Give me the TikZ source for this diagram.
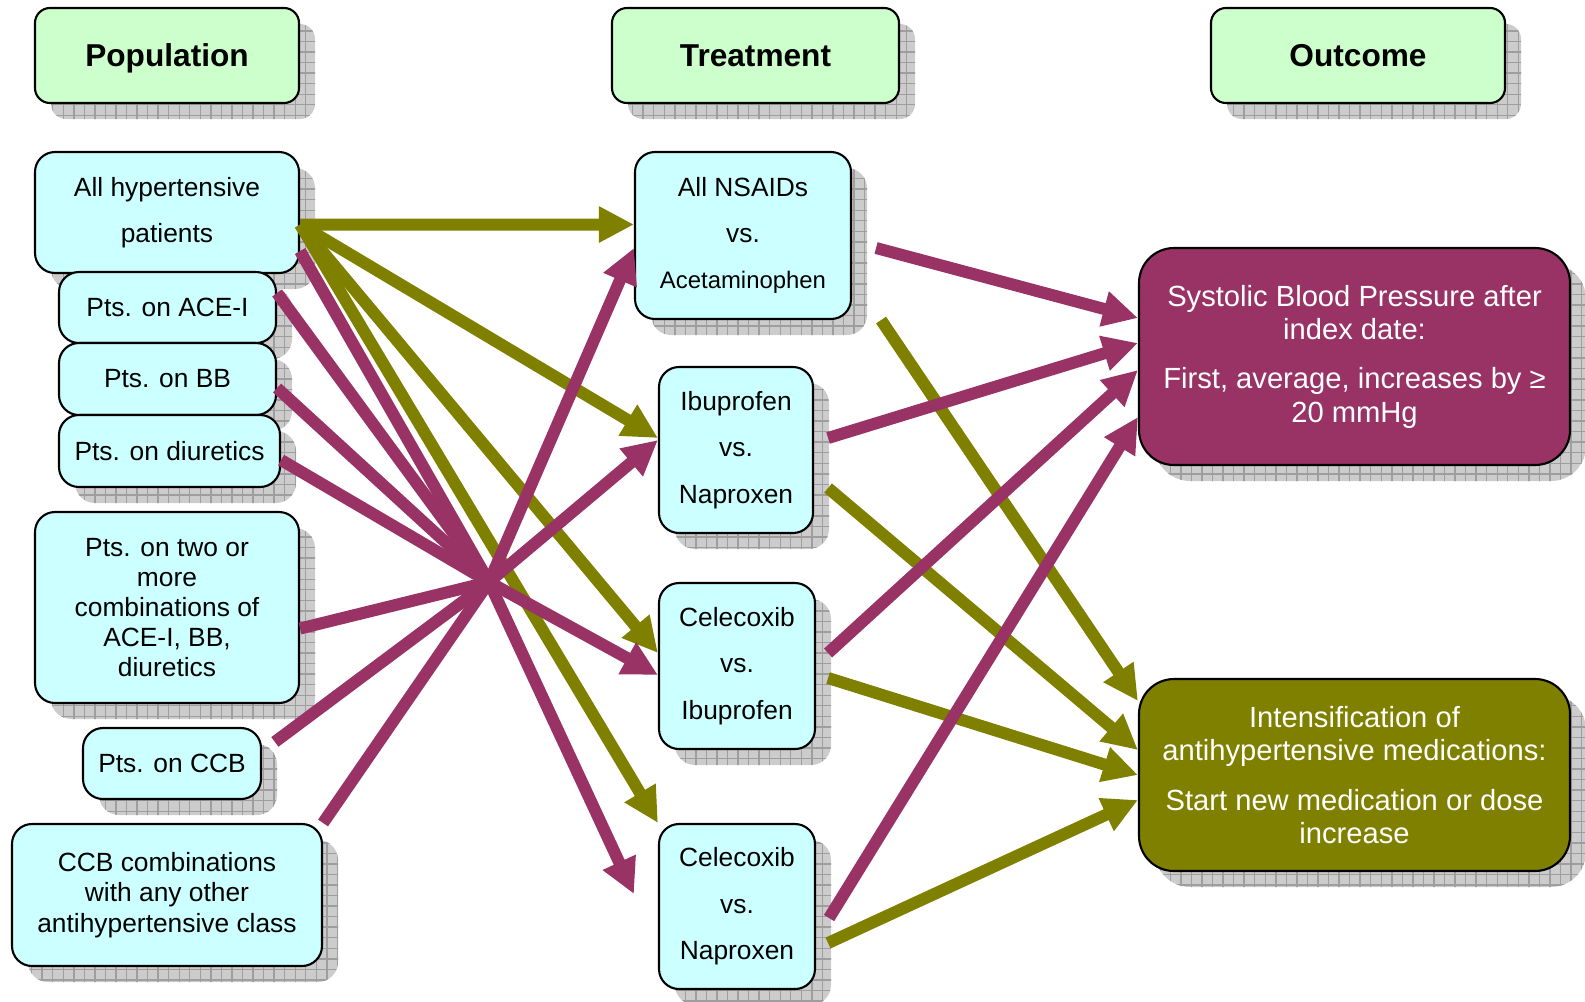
\documentclass[tikz,border=0pt]{standalone}
\usepackage{fontspec}
\setmainfont{Liberation Sans}
\usetikzlibrary{arrows.meta,shadows,patterns}
\definecolor{hdrgreen}{HTML}{CCFFCC}
\definecolor{popcyan}{HTML}{CCFFFF}
\definecolor{plum}{HTML}{993366}
\definecolor{olivegr}{HTML}{808000}

\begin{document}
\begin{tikzpicture}[
  box/.style={draw=black, line width=0.6pt, rounded corners=2mm, align=center, inner sep=0pt, fill=popcyan, font=\fontsize{7.5}{8.6}\selectfont,
    drop shadow={shadow xshift=1.6mm, shadow yshift=-1.6mm, fill=black!20, opacity=1, postaction={pattern=grid, pattern color=black!38}}},
  hdr/.style={box, fill=hdrgreen, rounded corners=1.5mm, font=\fontsize{9}{11}\selectfont\bfseries, text height=7pt, text depth=1pt},
  wide/.style={box, font=\fontsize{7.5}{13.2}\selectfont},
  res/.style={box, rounded corners=3.5mm, text=white, font=\fontsize{8.3}{9.5}\selectfont},
  mline/.style={line width=1.2mm, draw=plum},
  oline/.style={line width=1.2mm, draw=olivegr},
  marr/.style={mline, -{Triangle[length=3.5mm,width=3.4mm]}},
  oarr/.style={oline, -{Triangle[length=3.5mm,width=3.4mm]}}]
\useasboundingbox (0,0) rectangle (15.85,-10.01);
% headers
\node[hdr, minimum width=26.4mm, minimum height=9.5mm] (hpop) at (1.67,-0.555)  {Population};
\node[hdr, minimum width=28.7mm, minimum height=9.5mm] (htrt) at (7.555,-0.555) {Treatment};
\node[hdr, minimum width=29.4mm, minimum height=9.5mm] (hout) at (13.58,-0.555) {Outcome};
% population
\node[wide, minimum width=26.4mm, minimum height=12.1mm] (allhyp) at (1.67,-2.125) {All hypertensive\\patients};
\node[box, minimum width=21.7mm, minimum height=7.1mm] (acei)   at (1.675,-3.075) {Pts. on ACE-I};
\node[box, minimum width=21.7mm, minimum height=7.2mm] (bb)     at (1.675,-3.79)  {Pts. on BB};
\node[box, minimum width=22.1mm, minimum height=7.2mm] (diur)   at (1.695,-4.51)  {Pts. on diuretics};
\node[box, minimum width=26.4mm, minimum height=19.1mm] (combo) at (1.67,-6.075) {Pts. on two or\\more\\combinations of\\ACE-I, BB,\\diuretics};
\node[box, minimum width=17.8mm, minimum height=7.1mm] (ccb)    at (1.72,-7.635)  {Pts. on CCB};
\node[box, minimum width=31mm, minimum height=14.2mm] (ccbany)  at (1.67,-8.95)   {CCB combinations\\with any other\\antihypertensive class};
% treatment
\node[wide, minimum width=21.6mm, minimum height=16.7mm] (nsaid)  at (7.43,-2.355) {All NSAIDs\\vs.\\{\fontsize{6.8}{13}\selectfont Acetaminophen}};
\node[wide, minimum width=15.4mm, minimum height=16.6mm] (ibunap) at (7.36,-4.50)  {Ibuprofen\\vs.\\Naproxen};
\node[wide, minimum width=15.6mm, minimum height=16.6mm] (celibu) at (7.37,-6.66)  {Celecoxib\\vs.\\Ibuprofen};
\node[wide, minimum width=15.6mm, minimum height=16.5mm] (celnap) at (7.37,-9.065) {Celecoxib\\vs.\\Naproxen};
% outcome
\node[res, fill=plum, minimum width=43.1mm, minimum height=21.7mm] (sbp) at (13.545,-3.565)
  {Systolic Blood Pressure after\\index date:\\[4.5pt]First, average, increases by ≥\\20 mmHg};
\node[res, fill=olivegr, minimum width=43.1mm, minimum height=19.2mm] (intens) at (13.545,-7.75)
  {Intensification of\\antihypertensive medications:\\[4.5pt]Start new medication or dose\\increase};
\coordinate (hub) at (4.89,-5.82);
% all patients -> every comparison
\draw[oarr] ([yshift=-1.2mm]allhyp.east) -- ([yshift=1.1mm]nsaid.west);
\draw[oarr] ([yshift=-1.2mm]allhyp.east) -- ([yshift=1.2mm]ibunap.west);
\draw[oarr] ([yshift=-1.2mm]allhyp.east) -- ([yshift=1.3mm]celibu.west);
\draw[oarr] ([yshift=-1.2mm]allhyp.east) -- (celnap.north west);
% subgroups into the hub
\draw[mline] ([yshift=2.3mm]allhyp.south east) -- (hub);
\draw[mline] ([yshift=1.45mm]acei.east) -- (hub);
\draw[mline] ([yshift=-0.9mm]bb.east) -- (hub);
\draw[mline] ([yshift=-0.9mm]diur.east) -- (hub);
\draw[mline] ([yshift=-2.1mm]combo.east) -- (hub);
\draw[mline, shorten <=1.6mm] ([yshift=1.2mm]ccb.east) -- (hub);
\draw[mline] (ccbany.north east) -- (hub);
% hub out
\draw[marr] (hub) -- ([yshift=-1.25mm]nsaid.west);
\draw[marr] (hub) -- ([yshift=1mm]ibunap.west);
\draw[marr] (hub) -- ([yshift=-0.9mm]celibu.west);
\draw[marr] (hub) -- ([xshift=-2.4mm,yshift=1.25mm]celnap.west);
% comparisons -> outcomes
\draw[oarr] ([xshift=2.9mm]nsaid.south east) -- ([yshift=-2.3mm]intens.north west);
\draw[oarr] ([xshift=1.4mm,yshift=-3.8mm]ibunap.east) -- ([yshift=2.5mm]intens.west);
\draw[oarr] ([xshift=1.2mm,yshift=-1.2mm]celibu.east) -- (intens.west);
\draw[oarr] ([xshift=1.2mm,yshift=-3.65mm]celnap.east) -- ([yshift=-2.5mm]intens.west);
\draw[marr] ([xshift=2.4mm,yshift=-1.25mm]nsaid.east) -- ([yshift=3.85mm]sbp.west);
\draw[marr] ([xshift=1.4mm,yshift=1.2mm]ibunap.east) -- ([yshift=1.35mm]sbp.west);
\draw[marr] ([xshift=1.2mm,yshift=1.3mm]celibu.east) -- ([yshift=-1.35mm]sbp.west);
\draw[marr] ([xshift=1.3mm,yshift=-1.15mm]celnap.east) -- ([yshift=-6.05mm]sbp.west);
\end{tikzpicture}
\end{document}
